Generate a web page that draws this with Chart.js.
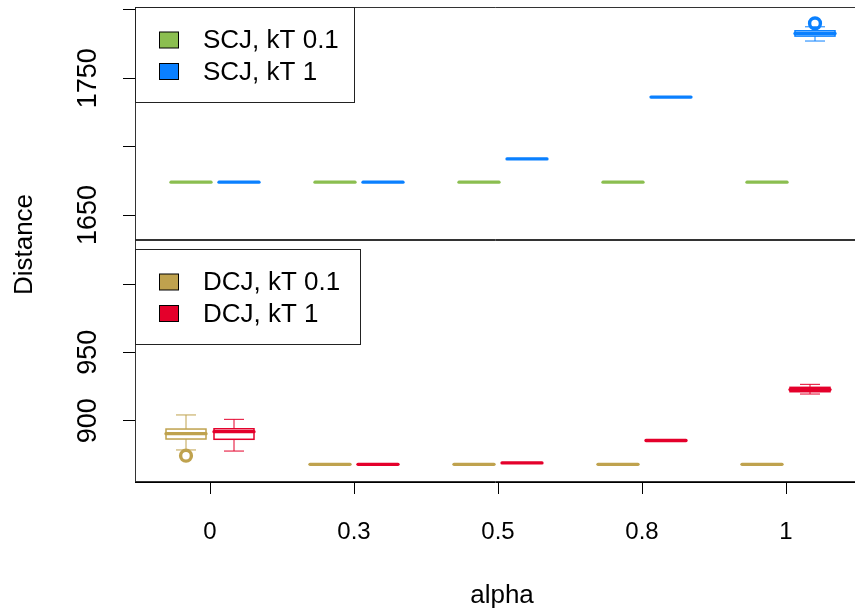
<!DOCTYPE html>
<html>
<head>
<meta charset="utf-8">
<title>Distance by alpha</title>
<script src="https://cdn.jsdelivr.net/npm/chart.js@4.4.1/dist/chart.umd.min.js"></script>
<style>
  html, body { margin: 0; padding: 0; background: #ffffff; }
  #wrap { position: relative; width: 855px; height: 611px; }
</style>
</head>
<body>
<div id="wrap"><canvas id="chart" width="855" height="611"></canvas></div>
<script>
// ---- data -------------------------------------------------------------
const alphaLabels = ['0', '0.3', '0.5', '0.8', '1'];

// five-number summaries per alpha: [lower whisker, Q1, median, Q3, upper whisker]
const scjKt01 = [
  [1674, 1674, 1674, 1674, 1674],
  [1674, 1674, 1674, 1674, 1674],
  [1674, 1674, 1674, 1674, 1674],
  [1674, 1674, 1674, 1674, 1674],
  [1674, 1674, 1674, 1674, 1674]
];
const scjKt1 = [
  [1674, 1674, 1674, 1674, 1674],
  [1674, 1674, 1674, 1674, 1674],
  [1691, 1691, 1691, 1691, 1691],
  [1736.3, 1736.3, 1736.3, 1736.3, 1736.3],
  [1777.3, 1780.9, 1782.8, 1784.8, 1787.7]
];
const scjKt1Outliers = [[], [], [], [], [1790.2]];

const dcjKt01 = [
  [878.6, 886.6, 890.5, 893.9, 904.2],
  [868.1, 868.1, 868.1, 868.1, 868.1],
  [868.1, 868.1, 868.1, 868.1, 868.1],
  [868.1, 868.1, 868.1, 868.1, 868.1],
  [868.1, 868.1, 868.1, 868.1, 868.1]
];
const dcjKt01Outliers = [[874.4], [], [], [], []];
const dcjKt1 = [
  [877.8, 886.4, 892.0, 894.1, 901.0],
  [868.1, 868.1, 868.1, 868.1, 868.1],
  [869.1, 869.1, 869.1, 869.1, 869.1],
  [885.5, 885.5, 885.5, 885.5, 885.5],
  [919.5, 921.2, 922.8, 924.4, 926.6]
];
const dcjKt1Outliers = [[], [], [], [], []];

const seriesNames = ['SCJ, kT 0.1', 'SCJ, kT 1', 'DCJ, kT 0.1', 'DCJ, kT 1'];
const seriesColors = ['#8BBE50', '#0A80FF', '#BFA24E', '#E4002B'];

const topTicks = [1650, 1700, 1750, 1800];
const topTickLabels = ['1650', '', '1750', ''];
const bottomTicks = [900, 950, 1000];
const bottomTickLabels = ['900', '950', ''];

// ---- styling ---------------------------------------------------------
const FONT = 'Liberation Sans';
const FONT_SIZE = 26;
const X_TICK_SIZE = 24;
const Y_TICK_SIZE = 27;
const BOX_HALF = 20 / 144;   // half box width in axis units
const CAP_HALF = 10 / 144;   // half whisker-cap width
const SIDE = 24 / 144;       // offset of each box from its alpha position
const PLOT_LEFT = 135;
const PLOT_WIDTH = 734;      // plot region runs past the right edge of the canvas

Chart.defaults.font.family = FONT;
Chart.defaults.font.size = FONT_SIZE;
Chart.defaults.color = '#000';

function medians(stats) {
  return stats.map((s, i) => ({ x: i + 1, y: s[2] }));
}

function noScalePadding(scale) {
  scale.paddingLeft = 0; scale.paddingRight = 0;
  scale.paddingTop = 0; scale.paddingBottom = 0;
}

// Lets the horizontal scales extend past the canvas edge like the plot region does.
const widePlotPlugin = {
  id: 'widePlotPlugin',
  afterLayout(chart) {
    ['x', 'xSCJ'].forEach(id => {
      const s = chart.scales[id];
      s.left = PLOT_LEFT;
      s.right = PLOT_LEFT + PLOT_WIDTH;
      s.width = PLOT_WIDTH;
      s.configure();
    });
  }
};

// Draws R-style boxplots for every dataset through its own x/y scales.
const boxplotPlugin = {
  id: 'boxplotPlugin',
  afterDatasetsDraw(chart) {
    const ctx = chart.ctx;
    const seg = (x1, y1, x2, y2) => { ctx.beginPath(); ctx.moveTo(x1, y1); ctx.lineTo(x2, y2); ctx.stroke(); };
    chart.data.datasets.forEach(ds => {
      const xs = chart.scales[ds.xAxisID];
      const ys = chart.scales[ds.yAxisID];
      ctx.save();
      ctx.strokeStyle = ds.boxColor;
      ds.stats.forEach((s, i) => {
        const c = i + 1 + ds.side;
        const xl = xs.getPixelForValue(c - BOX_HALF);
        const xr = xs.getPixelForValue(c + BOX_HALF);
        const xm = xs.getPixelForValue(c);
        const cl = xs.getPixelForValue(c - CAP_HALF);
        const cr = xs.getPixelForValue(c + CAP_HALF);
        const [lo, q1, med, q3, hi] = s.map(v => ys.getPixelForValue(v));
        ctx.lineCap = 'butt';
        ctx.lineWidth = 1;
        if (hi < q3) { seg(xm, q3, xm, hi); seg(cl, hi, cr, hi); }
        if (lo > q1) { seg(xm, q1, xm, lo); seg(cl, lo, cr, lo); }
        ctx.lineWidth = 1.5;
        ctx.fillStyle = '#ffffff';
        if (q1 - q3 > 0.5) {
          ctx.fillRect(xl, q3, xr - xl, q1 - q3);
          ctx.strokeRect(xl, q3, xr - xl, q1 - q3);
        }
        ctx.lineWidth = 3.3;
        ctx.lineCap = 'round';
        seg(xl, med, xr, med);
        (ds.outliers[i] || []).forEach(v => {
          ctx.lineWidth = 3.4;
          ctx.beginPath();
          ctx.arc(xm, ys.getPixelForValue(v), 5.4, 0, Math.PI * 2);
          ctx.stroke();
        });
      });
      ctx.restore();
    });
  }
};

// Panel frames (top, left and bottom edges) for the SCJ and DCJ ranges.
const framePlugin = {
  id: 'framePlugin',
  beforeDatasetsDraw(chart) {
    const ctx = chart.ctx;
    const left = Math.round(chart.chartArea.left) + 0.5;
    const right = chart.width + 2;
    ctx.save();
    ctx.strokeStyle = '#333';
    ctx.lineWidth = 1;
    ['ySCJ', 'yDCJ'].forEach(id => {
      const s = chart.scales[id];
      const t = Math.round(s.top) + 0.5;
      const b = Math.round(s.bottom) - 0.5;
      ctx.beginPath();
      ctx.moveTo(right, t); ctx.lineTo(left, t); ctx.lineTo(left, b); ctx.lineTo(right, b);
      ctx.stroke();
    });
    ctx.restore();
  }
};

// Legend boxes in the top-left corner of each panel.
const legendGroups = [
  { scale: 'ySCJ', dy: 0, width: 219, items: [0, 1] },
  { scale: 'yDCJ', dy: 9, width: 225, items: [2, 3] }
];
const panelLegendPlugin = {
  id: 'panelLegendPlugin',
  afterDraw(chart) {
    const ctx = chart.ctx;
    const left = Math.round(chart.chartArea.left);
    ctx.save();
    ctx.font = FONT_SIZE + 'px "' + FONT + '"';
    legendGroups.forEach(g => {
      const top = Math.round(chart.scales[g.scale].top) + g.dy;
      const h = 95;
      ctx.fillStyle = '#fff';
      ctx.fillRect(left + 0.5, top + 0.5, g.width, h);
      ctx.strokeStyle = '#222';
      ctx.lineWidth = 1;
      ctx.strokeRect(left + 0.5, top + 0.5, g.width, h);
      g.items.forEach((k, j) => {
        const cy = top + 33 + j * 31.5;
        ctx.fillStyle = seriesColors[k];
        ctx.fillRect(left + 24.5, cy - 8, 19, 16);
        ctx.strokeStyle = '#000';
        ctx.strokeRect(left + 24.5, cy - 8, 19, 16);
        ctx.fillStyle = '#000';
        ctx.textBaseline = 'middle';
        ctx.textAlign = 'left';
        ctx.fillText(seriesNames[k], left + 68, cy + 1);
      });
    });
    ctx.restore();
  }
};

const X_MIN = 1 - 75 / 144;
const X_MAX = X_MIN + PLOT_WIDTH / 144;
const X2_SHIFT = 5 / 144;
const TITLE_PAD = 9;
const Y_AXIS_WIDTH = PLOT_LEFT - (FONT_SIZE * 1.2 + TITLE_PAD);

const yAxisCommon = {
  type: 'linear',
  position: 'left',
  stack: 'panels',
  border: { display: true, color: '#000' },
  grid: { display: true, drawOnChartArea: false, drawTicks: true, tickLength: 12, color: '#000' },
  afterFit(scale) { scale.width = Y_AXIS_WIDTH; noScalePadding(scale); }
};

new Chart(document.getElementById('chart'), {
  type: 'scatter',
  data: {
    datasets: [
      { label: seriesNames[0], data: medians(scjKt01), stats: scjKt01, outliers: [], side: -SIDE,
        boxColor: seriesColors[0], xAxisID: 'xSCJ', yAxisID: 'ySCJ', pointRadius: 0 },
      { label: seriesNames[1], data: medians(scjKt1), stats: scjKt1, outliers: scjKt1Outliers, side: SIDE,
        boxColor: seriesColors[1], xAxisID: 'xSCJ', yAxisID: 'ySCJ', pointRadius: 0 },
      { label: seriesNames[2], data: medians(dcjKt01), stats: dcjKt01, outliers: dcjKt01Outliers, side: -SIDE,
        boxColor: seriesColors[2], xAxisID: 'x', yAxisID: 'yDCJ', pointRadius: 0 },
      { label: seriesNames[3], data: medians(dcjKt1), stats: dcjKt1, outliers: dcjKt1Outliers, side: SIDE,
        boxColor: seriesColors[3], xAxisID: 'x', yAxisID: 'yDCJ', pointRadius: 0 }
    ]
  },
  options: {
    responsive: false,
    animation: false,
    devicePixelRatio: 1,
    layout: { padding: { top: 7, left: 0, right: 0, bottom: 0 } },
    plugins: {
      legend: { display: false },
      tooltip: { enabled: false },
      title: {
        display: true, text: 'Distance', position: 'left', fullSize: false,
        font: { family: FONT, size: FONT_SIZE, weight: 'normal' }, color: '#000',
        padding: { top: TITLE_PAD, bottom: 0 }
      }
    },
    scales: {
      x: {
        type: 'linear', position: 'bottom', min: X_MIN, max: X_MAX,
        border: { display: true, color: '#000' },
        grid: { display: true, drawOnChartArea: false, drawTicks: true, tickLength: 12, color: '#000' },
        afterBuildTicks(scale) { scale.ticks = alphaLabels.map((_, i) => ({ value: i + 1 })); },
        ticks: { autoSkip: false, maxRotation: 0, padding: 24, font: { size: X_TICK_SIZE },
                 callback: v => alphaLabels[v - 1] },
        title: { display: true, text: 'alpha', padding: { top: 0, bottom: 0 } },
        afterFit(scale) { scale.height = 129; noScalePadding(scale); }
      },
      xSCJ: {
        type: 'linear', position: 'bottom', display: false,
        min: X_MIN - X2_SHIFT, max: X_MAX - X2_SHIFT
      },
      ySCJ: Object.assign({}, yAxisCommon, {
        weight: 2, stackWeight: 233,
        min: 1650 - 25 / 1.367, max: 1800 + 3 / 1.367,
        afterBuildTicks(scale) { scale.ticks = topTicks.map(v => ({ value: v })); },
        ticks: { autoSkip: false, minRotation: 90, maxRotation: 90, crossAlign: 'center', padding: 4.3,
                 font: { size: Y_TICK_SIZE },
                 callback: v => topTickLabels[topTicks.indexOf(v)] }
      }),
      yDCJ: Object.assign({}, yAxisCommon, {
        weight: 1, stackWeight: 242,
        min: 900 - 61.3 / 1.367, max: 900 + 180.7 / 1.367,
        afterBuildTicks(scale) { scale.ticks = bottomTicks.map(v => ({ value: v })); },
        ticks: { autoSkip: false, minRotation: 90, maxRotation: 90, crossAlign: 'center', padding: 11.8,
                 font: { size: Y_TICK_SIZE },
                 callback: v => bottomTickLabels[bottomTicks.indexOf(v)] }
      })
    }
  },
  plugins: [widePlotPlugin, framePlugin, boxplotPlugin, panelLegendPlugin]
});
</script>
</body>
</html>
